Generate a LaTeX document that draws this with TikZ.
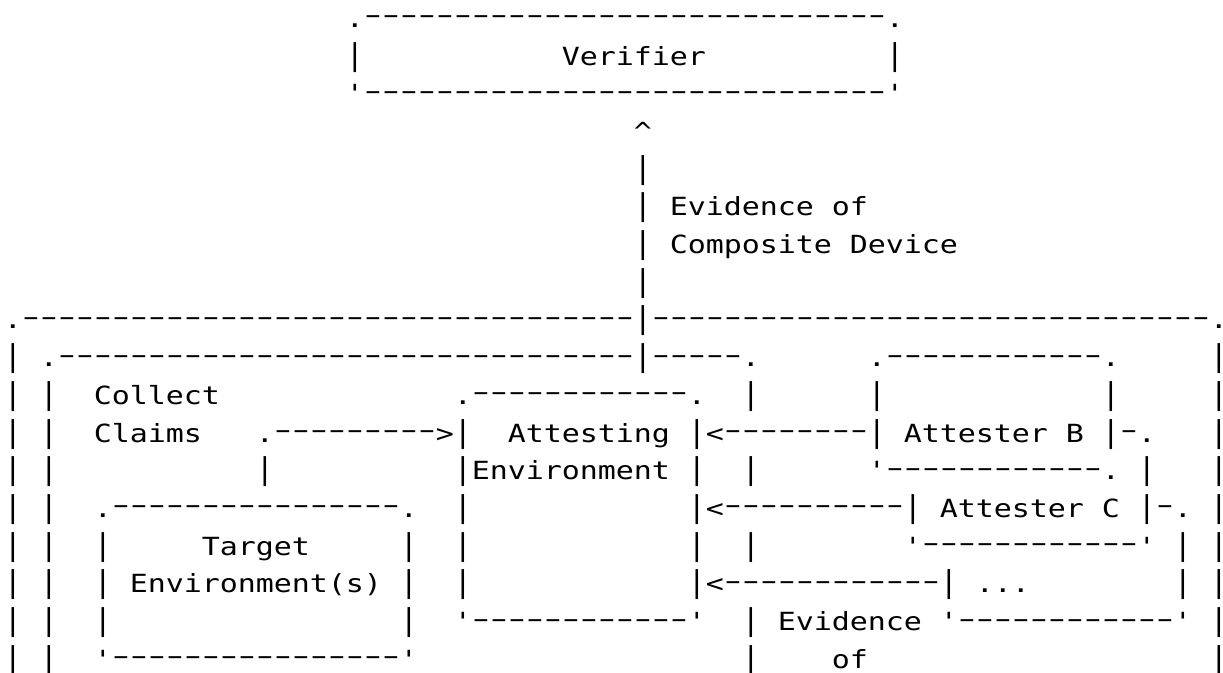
\documentclass[tikz,border=0pt]{standalone}
\usepackage{fontspec}
\usepackage{graphicx}
\setmonofont{DejaVu Sans Mono}[FakeStretch=1.2]

% Monospaced text laid out on a fixed 18pt character grid
\ExplSyntaxOn
\dim_new:N \l_ascii_cell_dim
\dim_set:Nn \l_ascii_cell_dim { 18pt }
\cs_new:Npn \ascii_glyph:n #1
  {
    \str_case:nnF {#1}
      {
        { - } { \raisebox{3.5pt}{\scalebox{1.65}[1]{-}} }
        { | } { \scalebox{1}[1.2]{|} }
      }
      {#1}
  }
\NewDocumentCommand \gridtext { m }
  {
    \str_map_inline:nn {#1}
      { \hbox_to_wd:nn { \l_ascii_cell_dim } { \hss \ascii_glyph:n {##1} \hss } }
  }
\ExplSyntaxOff

% \gridcell{name}{column}{row}{characters}
\newcommand\gridcell[4]{\node[asciitext] (#1) at ({4+18*#2},{27.3+37.7*#3}) {\gridtext{#4}};}

\begin{document}
\begin{tikzpicture}[x=1pt,y=-1pt,
  asciitext/.style={anchor=base west,inner sep=0pt,outer sep=0pt,text=black,
    font=\ttfamily\fontsize{25pt}{30pt}\selectfont}]
\fill[white] (0,0) rectangle (1223,672);
\useasboundingbox (0,0) rectangle (1223,672);

% Verifier
\gridcell{verifierTop}{19}{0}{.-----------------------------.}
\gridcell{verifierL}{19}{1}{|}
\gridcell{verifier}{31}{1}{Verifier}
\gridcell{verifierR}{49}{1}{|}
\gridcell{verifierBot}{19}{2}{'-----------------------------'}

% Evidence of the composite device going up
\gridcell{arrowHead}{35}{3}{^}
\gridcell{arrowA}{35}{4}{|}
\gridcell{evidenceA}{35}{5}{| Evidence of}
\gridcell{evidenceB}{35}{6}{| Composite Device}
\gridcell{arrowB}{35}{7}{|}

% Composite device and lead attester
\gridcell{deviceTop}{0}{8}{.----------------------------------|-------------------------------.}
\gridcell{leadTop}{0}{9}{| .--------------------------------|-----.}
\gridcell{attBTop}{48}{9}{.------------.}
\gridcell{edgeR9}{67}{9}{|}

\gridcell{edgeL10}{0}{10}{| |}
\gridcell{collect}{5}{10}{Collect}
\gridcell{aeTop}{25}{10}{.------------.}
\gridcell{leadR10}{41}{10}{|}
\gridcell{attBL10}{48}{10}{|}
\gridcell{attBR10}{61}{10}{|}
\gridcell{edgeR10}{67}{10}{|}

\gridcell{edgeL11}{0}{11}{| |}
\gridcell{claims}{5}{11}{Claims}
\gridcell{collectArrow}{14}{11}{.--------->|}
\gridcell{attesting}{28}{11}{Attesting |<--------| Attester B |-.}
\gridcell{edgeR11}{67}{11}{|}

\gridcell{edgeL12}{0}{12}{| |}
\gridcell{collectDrop}{14}{12}{|}
\gridcell{environment}{25}{12}{|Environment |}
\gridcell{leadR12}{41}{12}{|}
\gridcell{attBBot}{48}{12}{'------------. |}
\gridcell{edgeR12}{67}{12}{|}

\gridcell{edgeL13}{0}{13}{| |}
\gridcell{targetTop}{5}{13}{.----------------.}
\gridcell{aeL13}{25}{13}{|}
\gridcell{attC}{38}{13}{|<----------| Attester C |-. |}

\gridcell{edgeL14}{0}{14}{| |}
\gridcell{targetL14}{5}{14}{|}
\gridcell{target}{11}{14}{Target}
\gridcell{targetR14}{22}{14}{|}
\gridcell{aeL14}{25}{14}{|}
\gridcell{aeR14}{38}{14}{|}
\gridcell{leadR14}{41}{14}{|}
\gridcell{attCBot}{50}{14}{'------------' | |}

\gridcell{edgeL15}{0}{15}{| |}
\gridcell{targetEnv}{5}{15}{| Environment(s) |}
\gridcell{aeL15}{25}{15}{|}
\gridcell{more}{38}{15}{|<------------| ...}
\gridcell{edgeR15}{65}{15}{| |}

\gridcell{edgeL16}{0}{16}{| |}
\gridcell{targetL16}{5}{16}{|}
\gridcell{targetR16}{22}{16}{|}
\gridcell{aeBot}{25}{16}{'------------'}
\gridcell{evidenceC}{41}{16}{| Evidence '------------' |}

\gridcell{edgeL17}{0}{17}{| |}
\gridcell{targetBot}{5}{17}{'----------------'}
\gridcell{leadR17}{41}{17}{|}
\gridcell{evidenceD}{46}{17}{of}
\gridcell{edgeR17}{67}{17}{|}
\end{tikzpicture}
\end{document}
